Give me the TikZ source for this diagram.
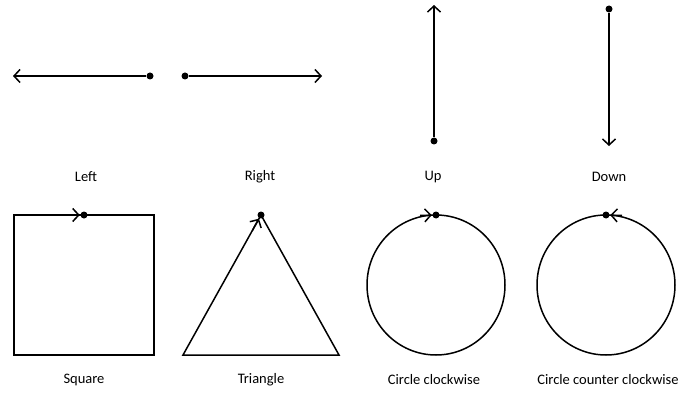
\documentclass[tikz,border=0pt]{standalone}
\usepackage{fontspec}
\setmainfont{Carlito}
\usetikzlibrary{arrows.meta,calc}
\tikzset{
  dot/.style={circle,fill,inner sep=0pt,minimum size=7pt},
  lbl/.style={font=\fontsize{14.5}{17}\selectfont},
  barb/.style={-{Straight Barb[length=6pt,width=13pt,line width=1.5pt]}}
}
\begin{document}
\begin{tikzpicture}[x=1pt,y=-1pt,line width=1.5pt]
  \useasboundingbox (0,0) rectangle (681,396);
  % straight moves
  \node[dot] (left)  at (150, 76) {};
  \node[dot] (right) at (185, 76) {};
  \node[dot] (up)    at (434,141) {};
  \node[dot] (down)  at (609,  9) {};
  \coordinate (leftend)  at ( 13, 76);
  \coordinate (rightend) at (322, 76);
  \coordinate (upend)    at (434,  5);
  \coordinate (downend)  at (609,146);
  \foreach \u\v in {left/leftend, right/rightend, up/upend, down/downend}
  {  \draw[barb] (\u) -- (\v);
  }
  % shapes
  \draw (14,215) rectangle (154,355);
  \node[dot] (square) at (84,215) {};
  \draw[barb] (68,215) -- (square);
  \coordinate (tribl) at (183,355);
  \coordinate (tribr) at (339,355);
  \node[dot] (triangle) at (261,215) {};
  \draw (tribl) -- (triangle.center) -- (tribr) -- cycle;
  \draw[barb] ($(triangle.center)!18pt!(tribl)$) -- (triangle);
  \draw (436,285) ellipse (69 and 70);
  \node[dot] (cw) at (436,215) {};
  \draw[barb] (420,215.5) -- (cw);
  \draw (606,285) ellipse (69 and 70);
  \node[dot] (ccw) at (606,215) {};
  \draw[barb] (622,215.5) -- (ccw);
  % labels
  \foreach \x\y\name in {86/177/Left, 260/177/Right, 433/177/Up, 609/177/Down,
    84/380/Square, 261/380/Triangle, 434/380/Circle clockwise,
    608/380/Circle counter clockwise}
  {  \node[lbl] (lbl-\name) at (\x,\y) {\name};
  }
\end{tikzpicture}
\end{document}
